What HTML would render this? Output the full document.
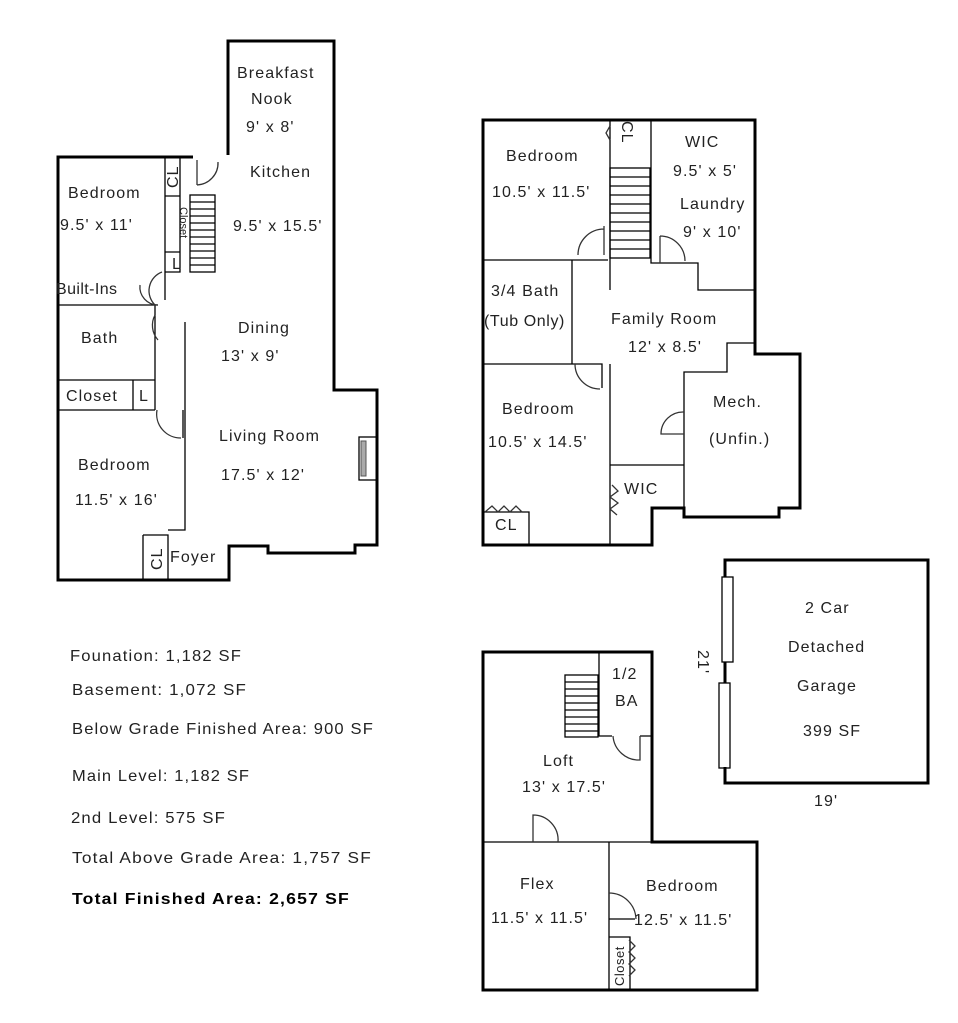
<!DOCTYPE html>
<html><head><meta charset="utf-8"><style>
html,body{margin:0;padding:0;background:#fff;}
svg{display:block;}
text{font-family:"Liberation Sans","DejaVu Sans",sans-serif;font-size:16px;fill:#222;letter-spacing:1.1px;}
.w{stroke:#000;stroke-width:3;fill:none;}
.t{stroke:#000;stroke-width:1.3;fill:none;}
.a{stroke:#333;stroke-width:1.3;fill:none;}
</style></head><body>
<svg width="958" height="1023" viewBox="0 0 958 1023" xmlns="http://www.w3.org/2000/svg">
<!-- MAIN FLOOR -->
<path class="w" d="M228,155 L228,41 L334,41 L334,390 L377,390 L377,545 L355,545 L355,553 L268,553 L268,546 L229,546 L229,580 L58,580 L58,157 L193,157"/>
<path class="t" d="M165,157 L165,300 M165,196 L180,196 M165,252 L180,252 M180,157 L180,272 L165,272 M58,305 L158,305 M155,305 L155,410 M58,380 L155,380 M58,410 L155,410 M133,380 L133,410 M185,322 L185,530 L168,530 M143,535 L168,535 L168,580 M143,535 L143,580 M183,410 L183,438"/>
<rect x="190" y="195" width="25" height="77" class="t"/>
<path class="t" d="M190,202H215M190,209H215M190,216H215M190,223H215M190,230H215M190,237H215M190,244H215M190,251H215M190,258H215M190,265H215"/>
<path class="a" d="M197,185 L197,160 M197,185 A22,22 0 0 0 218,162"/>
<path class="a" d="M162,272 A20,20 0 0 0 155,305 M140,285 A18,18 0 0 0 158,305"/>
<path class="a" d="M155,315 A22,22 0 0 0 158,340"/>
<path class="a" d="M157,410 A24,24 0 0 0 181,438"/>
<rect x="359" y="437" width="18" height="43" class="t"/>
<rect x="361" y="441" width="5" height="35" fill="#aaa" stroke="#555" stroke-width="1"/>
<text x="237" y="78">Breakfast</text><text x="251" y="104">Nook</text><text x="246" y="132">9' x 8'</text>
<text x="250" y="177">Kitchen</text><text x="233" y="231">9.5' x 15.5'</text>
<text x="68" y="198">Bedroom</text><text x="60" y="230">9.5' x 11'</text>
<text x="56" y="294" style="letter-spacing:0.4px">Built-Ins</text>
<text x="81" y="343">Bath</text><text x="66" y="401">Closet</text><text x="139" y="401">L</text><text x="172" y="269">L</text>
<text x="238" y="333">Dining</text><text x="221" y="361">13' x 9'</text>
<text x="219" y="441">Living Room</text><text x="221" y="480">17.5' x 12'</text>
<text x="78" y="470">Bedroom</text><text x="75" y="505">11.5' x 16'</text>
<text x="170" y="562">Foyer</text>
<text transform="translate(178,176) rotate(-90)" x="-12" y="0">CL</text>
<text transform="translate(180,225) rotate(90)" x="-18" y="0" style="font-size:11px;letter-spacing:0">Closet</text>
<text transform="translate(162,558) rotate(-90)" x="-12" y="0">CL</text>

<!-- BASEMENT -->
<path class="w" d="M483,120 L755,120 L755,354 L800,354 L800,508 L779,508 L779,517 L684,517 L684,508 L652,508 L652,545 L483,545 Z"/>
<path class="t" d="M610,120 L610,290 M651,120 L651,263 L698,263 L698,290 L755,290 M483,260 L608,260 M572,260 L572,364 L483,364 M572,364 L602,364 L602,388 M610,364 L610,545 M610,465 L684,465 M684,517 L684,372 L727,372 L727,343 L755,343 M483,512 L529,512 L529,545"/>
<rect x="610" y="168" width="40" height="90" class="t"/>
<path class="t" d="M610,177H650M610,186H650M610,195H650M610,204H650M610,213H650M610,222H650M610,231H650M610,240H650M610,249H650"/>
<path class="a" d="M604,226 L604,255 M578,255 A26,26 0 0 1 604,229"/>
<path class="a" d="M660,236 L660,263 M660,236 A25,25 0 0 1 685,261"/>
<path class="a" d="M575,364 A25,25 0 0 0 600,389"/>
<path class="a" d="M684,412 A22,22 0 0 0 661,434 L684,434"/>
<path class="a" d="M610,126 L606,133 L610,140"/>
<path class="a" d="M612,485 L618,491 L610,497 L618,503 L610,509 L617,515"/>
<path class="a" d="M485,512 L492,506 L498,512 L504,506 L510,512 L516,506 L522,512"/>
<text x="506" y="161">Bedroom</text><text x="492" y="197">10.5' x 11.5'</text>
<text x="685" y="147">WIC</text><text x="673" y="176">9.5' x 5'</text>
<text x="680" y="209">Laundry</text><text x="683" y="237">9' x 10'</text>
<text x="491" y="296">3/4 Bath</text><text x="484" y="326" style="letter-spacing:0.6px">(Tub Only)</text>
<text x="611" y="324">Family Room</text><text x="628" y="352">12' x 8.5'</text>
<text x="502" y="414">Bedroom</text><text x="488" y="447">10.5' x 14.5'</text>
<text x="713" y="407">Mech.</text><text x="709" y="444">(Unfin.)</text>
<text x="624" y="494">WIC</text><text x="495" y="530">CL</text>
<text transform="translate(622,131) rotate(90)" x="-10" y="0">CL</text>

<!-- GARAGE -->
<path class="w" d="M725,577 L725,560 L928,560 L928,783 L725,783 L725,767"/>
<path class="w" d="M725,662 L725,683"/>
<rect x="722" y="577" width="11" height="85" class="t" fill="#fff"/>
<rect x="719" y="683" width="11" height="85" class="t" fill="#fff"/>
<text x="805" y="613">2 Car</text><text x="788" y="652">Detached</text><text x="797" y="691">Garage</text><text x="803" y="736">399 SF</text>
<text x="814" y="806">19'</text>
<text transform="translate(698,650) rotate(90)" x="0" y="0">21'</text>

<!-- UPPER -->
<path class="w" d="M483,652 L652,652 L652,842 L757,842 L757,990 L483,990 Z"/>
<path class="t" d="M599,652 L599,736 L612,736 M640,736 L652,736 M483,842 L652,842 M609,842 L609,990 M609,919 L635,919 M609,937 L630,937 L630,990"/>
<rect x="565" y="675" width="33" height="62" class="t"/>
<path class="t" d="M565,682H598M565,689H598M565,696H598M565,703H598M565,710H598M565,717H598M565,724H598M565,731H598"/>
<path class="a" d="M640,736 L640,760 A26,26 0 0 1 613,736"/>
<path class="a" d="M533,842 L533,815 A25,25 0 0 1 558,842"/>
<path class="a" d="M609,893 A27,27 0 0 1 636,919"/>
<path class="a" d="M629,940 L635,946 L629,952 L635,958 L629,964 L635,970 L629,976"/>
<text x="612" y="679">1/2</text><text x="615" y="706">BA</text>
<text x="543" y="766">Loft</text><text x="522" y="792">13' x 17.5'</text>
<text x="520" y="889">Flex</text><text x="491" y="923">11.5' x 11.5'</text>
<text x="646" y="891">Bedroom</text><text x="634" y="925">12.5' x 11.5'</text>
<text transform="translate(624,986) rotate(-90)" x="0" y="0" style="font-size:13px;letter-spacing:0.5px">Closet</text>

<!-- STATS -->
<text x="70" y="661" textLength="172" lengthAdjust="spacingAndGlyphs">Founation: 1,182 SF</text>
<text x="72" y="695" textLength="175" lengthAdjust="spacingAndGlyphs">Basement: 1,072 SF</text>
<text x="72" y="734" textLength="302" lengthAdjust="spacingAndGlyphs">Below Grade Finished Area: 900 SF</text>
<text x="72" y="781" textLength="178" lengthAdjust="spacingAndGlyphs">Main Level: 1,182 SF</text>
<text x="71" y="823" textLength="155" lengthAdjust="spacingAndGlyphs">2nd Level: 575 SF</text>
<text x="72" y="863" textLength="300" lengthAdjust="spacingAndGlyphs">Total Above Grade Area: 1,757 SF</text>
<text x="72" y="904" textLength="278" lengthAdjust="spacingAndGlyphs" style="font-weight:bold;fill:#000">Total Finished Area: 2,657 SF</text>
</svg>
</body></html>
